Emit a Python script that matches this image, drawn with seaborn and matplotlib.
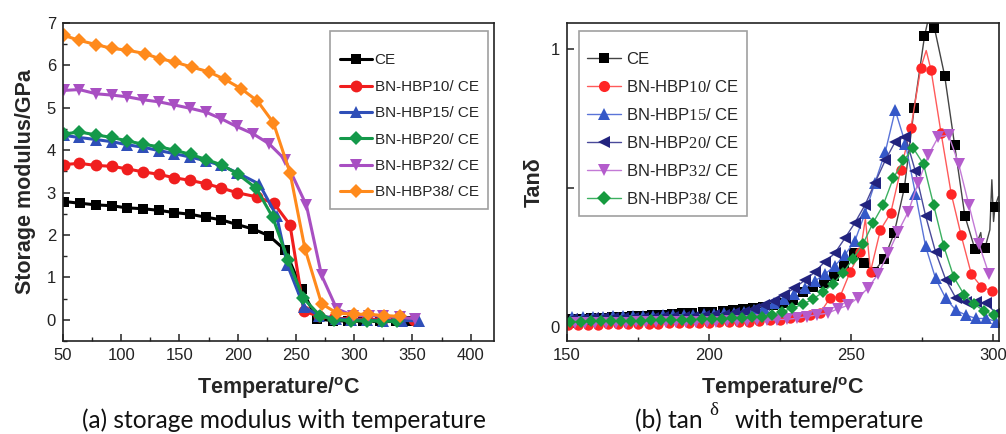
import matplotlib
matplotlib.use("Agg")
import matplotlib.pyplot as plt
import seaborn as sns
import pandas as pd
from matplotlib.lines import Line2D
from matplotlib.ticker import MultipleLocator, FixedLocator

sns.set_theme(style="white")
plt.rcParams['font.family'] = ['Liberation Sans', 'DejaVu Sans']
plt.rcParams['mathtext.fontset'] = 'custom'
plt.rcParams['mathtext.rm'] = 'Liberation Serif'
plt.rcParams['mathtext.sf'] = 'Liberation Sans:bold'

# ---------------- data: (a) storage modulus ----------------
series_a = ["CE", "BN-HBP10/ CE", "BN-HBP15/ CE", "BN-HBP20/ CE", "BN-HBP32/ CE", "BN-HBP38/ CE"]

ce_T_a = [50.6, 64.3, 78.6, 92, 104.9, 118.6, 132.6, 145.4, 159, 172.6, 185.7, 199, 213.4, 227, 240.6, 254.9, 268, 282, 295, 307.7, 322, 336, 349]
ce_E_a = [2.79, 2.75, 2.71, 2.69, 2.64, 2.62, 2.58, 2.53, 2.49, 2.42, 2.36, 2.25, 2.14, 1.98, 1.65, 0.72, 0.02, -0.02, -0.03, -0.04, -0.04, -0.04, -0.04]

h10_T_a = [50.6, 64, 78.6, 92, 105, 118.6, 132.6, 145.4, 159, 172.6, 186, 199, 216.3, 231, 244.9, 256.9, 270, 283, 297, 311, 324, 338, 351]
h10_E_a = [3.66, 3.69, 3.64, 3.62, 3.56, 3.49, 3.43, 3.35, 3.29, 3.21, 3.11, 3.0, 2.9, 2.75, 2.24, 0.2, 0.08, 0.04, 0.02, 0.01, 0.0, 0.0, 0.0]

h15_T_a = [50.6, 64, 78.6, 92, 105, 118.6, 132.6, 145.4, 159, 172.6, 186, 199.5, 218.6, 233.4, 242.6, 256.9, 270, 284, 297, 311, 325, 341, 355.7]
h15_E_a = [4.35, 4.3, 4.25, 4.2, 4.13, 4.07, 3.99, 3.92, 3.84, 3.75, 3.64, 3.47, 3.2, 2.45, 1.3, 0.3, 0.1, 0.03, 0.0, -0.01, -0.02, -0.02, -0.02]

h20_T_a = [50.6, 64, 78.6, 92, 105, 119, 132.6, 146, 159.5, 173, 186.5, 200, 216, 230, 243.4, 256.3, 270.6, 283, 297, 311, 324, 337]
h20_E_a = [4.38, 4.43, 4.36, 4.3, 4.22, 4.14, 4.08, 4.0, 3.9, 3.78, 3.65, 3.44, 3.1, 2.42, 1.4, 0.51, 0.1, 0.0, -0.02, -0.03, -0.03, -0.04]

h32_T_a = [50.6, 64, 78.6, 92, 105, 118.6, 132.6, 145, 159, 172.6, 186, 199, 213, 227, 240.6, 259, 272, 285, 299, 313, 325, 339, 352]
h32_E_a = [5.41, 5.43, 5.33, 5.3, 5.26, 5.19, 5.14, 5.07, 4.99, 4.9, 4.74, 4.56, 4.39, 4.15, 3.78, 2.7, 1.05, 0.26, 0.1, 0.1, 0.08, 0.06, 0.03]

h38_T_a = [50.6, 64, 78.6, 92, 105, 120, 133, 146, 160.6, 175, 189, 203, 217, 230.6, 245, 257.7, 272, 285, 299.7, 312, 326, 339]
h38_E_a = [6.71, 6.59, 6.49, 6.4, 6.36, 6.28, 6.16, 6.08, 5.96, 5.85, 5.67, 5.45, 5.16, 4.65, 3.46, 1.68, 0.38, 0.16, 0.13, 0.13, 0.1, 0.08]

# ---------------- data: (b) tan delta ----------------
series_b = ["CE", "BN-HBP10/ CE", "BN-HBP15/ CE", "BN-HBP20/ CE", "BN-HBP32/ CE", "BN-HBP38/ CE"]

ce_T_b = [151.5, 155.1, 158.6, 162.2, 165.7, 169.3, 172.8, 176.4, 179.9, 183.5, 187.0, 190.6, 194.1, 197.7, 201.2, 204.8, 208.3, 211.9, 215.4, 219.0,
          222.5, 226.1, 229.6, 233.2, 236.7, 240.3, 243.8, 247.4, 250.9, 254.5, 258.0, 261.6, 265.1, 268.7, 272.2, 275.8, 279.3, 282.9, 286.4, 290.0, 293.5, 297.1, 300.6]
ce_D_b = [0.028, 0.030, 0.032, 0.033, 0.035, 0.037, 0.039, 0.041, 0.043, 0.045, 0.047, 0.049, 0.051, 0.053, 0.055, 0.058, 0.061, 0.064, 0.068, 0.073,
          0.080, 0.088, 0.097, 0.125, 0.145, 0.160, 0.185, 0.225, 0.265, 0.230, 0.200, 0.246, 0.337, 0.500, 0.790, 1.046, 1.076, 0.904, 0.655, 0.400, 0.282, 0.285, 0.433]
ce_extra_T_b = [277.6, 295.6, 296.3, 298.8, 299.5, 300.1, 301.8]
ce_extra_D_b = [1.13, 0.34, 0.27, 0.35, 0.53, 0.38, 0.47]

h10_T_b = [150.3, 153.8, 157.4, 160.9, 164.5, 168.0, 171.6, 175.1, 178.7, 182.2, 185.8, 189.3, 192.9, 196.4, 200.0, 203.5, 207.1, 210.6, 214.2, 217.7, 221.3,
           224.8, 228.4, 231.9, 235.5, 239.0, 242.6, 246.1, 249.7, 253.2, 256.8, 260.3, 263.9, 267.4, 271.0, 274.5, 278.1, 281.6, 285.2, 288.7, 292.3, 295.8, 299.4]
h10_D_b = [0.008, 0.008, 0.009, 0.009, 0.010, 0.010, 0.011, 0.011, 0.012, 0.012, 0.013, 0.013, 0.014, 0.015, 0.016, 0.017, 0.018, 0.019, 0.020, 0.022, 0.024,
           0.027, 0.031, 0.037, 0.045, 0.050, 0.105, 0.110, 0.200, 0.270, 0.200, 0.350, 0.410, 0.565, 0.715, 0.933, 0.925, 0.700, 0.480, 0.330, 0.190, 0.145, 0.130]
h10_extra_T_b = [255.0, 276.4]
h10_extra_D_b = [0.39, 0.995]

h15_T_b = [151.9, 155.5, 159.0, 162.6, 166.1, 169.7, 173.2, 176.8, 180.3, 183.9, 187.4, 191.0, 194.5, 198.1, 201.6, 205.2, 208.7, 212.3, 215.8,
           219.4, 222.9, 226.5, 230.0, 233.6, 237.1, 240.7, 244.2, 247.8, 251.3, 254.9, 258.4, 262.0, 265.5, 269.1, 272.6, 276.2, 279.7, 283.3, 286.8, 290.4, 293.9, 297.5, 301.0]
h15_D_b = [0.037, 0.037, 0.038, 0.038, 0.039, 0.039, 0.040, 0.040, 0.041, 0.042, 0.043, 0.044, 0.045, 0.046, 0.047, 0.049, 0.051, 0.055, 0.060,
           0.070, 0.085, 0.100, 0.120, 0.140, 0.165, 0.190, 0.220, 0.260, 0.310, 0.410, 0.520, 0.630, 0.780, 0.660, 0.480, 0.290, 0.175, 0.103, 0.061, 0.043, 0.031, 0.031, 0.020]

h20_T_b = [151.9, 155.5, 159.0, 162.6, 166.1, 169.7, 173.2, 176.8, 180.3, 183.9, 187.4, 191.0, 194.5, 198.1, 201.6, 205.2, 208.7, 212.3, 215.8,
           219.4, 222.9, 226.5, 230.0, 233.6, 237.1, 240.7, 244.2, 247.8, 251.3, 254.9, 258.4, 262.0, 265.5, 269.1, 272.6, 276.2, 279.7, 283.3, 286.8, 290.4, 293.9, 297.5, 301.0]
h20_D_b = [0.030, 0.030, 0.031, 0.031, 0.032, 0.032, 0.033, 0.033, 0.034, 0.035, 0.036, 0.037, 0.038, 0.040, 0.042, 0.045, 0.049, 0.055, 0.065,
           0.078, 0.095, 0.117, 0.140, 0.168, 0.197, 0.235, 0.265, 0.320, 0.375, 0.440, 0.520, 0.600, 0.667, 0.685, 0.560, 0.400, 0.270, 0.170, 0.105, 0.090, 0.090, 0.085, 0.050]

h32_T_b = [152.9, 156.5, 160.0, 163.6, 167.1, 170.7, 174.2, 177.8, 181.3, 184.9, 188.4, 192.0, 195.5, 199.1, 202.6, 206.2, 209.7, 213.3, 216.8, 220.4, 223.9, 227.5,
           231.0, 234.6, 238.1, 241.7, 245.2, 248.8, 252.3, 255.9, 259.4, 263.0, 266.5, 270.1, 273.6, 277.2, 280.7, 284.3, 287.8, 291.4, 294.9, 298.5]
h32_D_b = [0.015, 0.015, 0.015, 0.016, 0.016, 0.016, 0.017, 0.017, 0.017, 0.018, 0.018, 0.019, 0.019, 0.020, 0.020, 0.021, 0.022, 0.023, 0.024, 0.025, 0.027, 0.028,
           0.032, 0.038, 0.045, 0.050, 0.065, 0.078, 0.105, 0.140, 0.190, 0.265, 0.343, 0.415, 0.520, 0.619, 0.685, 0.690, 0.588, 0.440, 0.300, 0.190]

h38_T_b = [151.2, 154.8, 158.3, 161.9, 165.4, 169.0, 172.5, 176.1, 179.6, 183.2, 186.7, 190.3, 193.8, 197.4, 200.9, 204.5, 208.0, 211.6, 215.1,
           218.7, 222.2, 225.8, 229.3, 232.9, 236.4, 240.0, 243.5, 247.1, 250.6, 254.2, 257.7, 261.3, 264.8, 268.4, 271.9, 275.5, 279.0, 282.6, 286.1, 289.7, 293.2, 296.8, 300.3]
h38_D_b = [0.020, 0.020, 0.021, 0.021, 0.022, 0.022, 0.023, 0.023, 0.024, 0.025, 0.025, 0.026, 0.027, 0.028, 0.029, 0.030, 0.031, 0.033, 0.035,
           0.038, 0.045, 0.056, 0.068, 0.082, 0.100, 0.125, 0.155, 0.195, 0.245, 0.300, 0.375, 0.440, 0.535, 0.600, 0.643, 0.585, 0.440, 0.290, 0.180, 0.117, 0.083, 0.058, 0.043]

# ---------------- styles ----------------
colors_a = ["#000000", "#f01e1e", "#2f4fb8", "#14994a", "#a84fc2", "#ff8a1c"]
markers_a = ["s", "o", "^", "D", "v", "D"]
msize_a = [7.5, 8.5, 8.5, 7, 8.5, 7]

colors_b = ["#000000", "#ff2626", "#3558c8", "#22237e", "#b45ccc", "#169a3e"]
markers_b = ["s", "o", "^", "<", "v", "D"]
msize_b = [6.5, 7.5, 8.5, 8.5, 8.5, 6.5]
lcolors_b = ["#444444", "#ff5a5a", "#5a74d8", "#4a4a9a", "#c37ad6", "#3cb060"]

fig = plt.figure(figsize=(10.06, 4.34), dpi=100)
fig.patch.set_facecolor("white")
ax1 = fig.add_axes([0.0626, 0.2143, 0.4284, 0.7327])
ax2 = fig.add_axes([0.5636, 0.2143, 0.4294, 0.7327])

# ---- panel (a)
data_a = [(ce_T_a, ce_E_a), (h10_T_a, h10_E_a), (h15_T_a, h15_E_a),
          (h20_T_a, h20_E_a), (h32_T_a, h32_E_a), (h38_T_a, h38_E_a)]
for i, (name, (t, e)) in enumerate(zip(series_a, data_a)):
    df = pd.DataFrame({"T": t, "E": e})
    sns.lineplot(data=df, x="T", y="E", ax=ax1, color=colors_a[i], linewidth=2.2,
                 marker=markers_a[i], markersize=msize_a[i], markeredgewidth=0,
                 estimator=None, sort=False, legend=False)

ax1.set_xlim(50, 420)
ax1.set_ylim(-0.5, 7)
ax1.xaxis.set_major_locator(FixedLocator([50, 100, 150, 200, 250, 300, 350, 400]))
ax1.xaxis.set_minor_locator(MultipleLocator(25))
ax1.yaxis.set_major_locator(FixedLocator([0, 1, 2, 3, 4, 5, 6, 7]))
ax1.yaxis.set_minor_locator(MultipleLocator(0.5))
ax1.set_xlabel("Temperature/$^{\\mathsf{o}}$C", fontsize=15.5, fontweight="bold", labelpad=9)
ax1.set_ylabel("Storage modulus/GPa", fontsize=15.5, fontweight="bold", labelpad=8)

handles_a = [Line2D([0], [0], color=colors_a[i], lw=2.2, marker=markers_a[i],
                    markersize=msize_a[i], markeredgewidth=0) for i in range(6)]
leg1 = ax1.legend(handles_a, series_a, loc="upper right", bbox_to_anchor=(0.986, 0.975),
                  borderaxespad=0, fontsize=11, frameon=True, fancybox=False,
                  handlelength=2.1, handletextpad=0.2, labelspacing=0.81,
                  borderpad=0.6, title=" ", title_fontsize=1)
leg1.get_frame().set_edgecolor("#888888")
leg1.get_frame().set_linewidth(1.2)

# ---- panel (b)
data_b = [(ce_T_b, ce_D_b, ce_extra_T_b, ce_extra_D_b),
          (h10_T_b, h10_D_b, h10_extra_T_b, h10_extra_D_b),
          (h15_T_b, h15_D_b, [], []),
          (h20_T_b, h20_D_b, [], []),
          (h32_T_b, h32_D_b, [], []),
          (h38_T_b, h38_D_b, [], [])]
for i, (name, (t, d, et, ed)) in enumerate(zip(series_b, data_b)):
    dline = pd.DataFrame({"T": list(t) + list(et), "D": list(d) + list(ed)}).sort_values("T")
    sns.lineplot(data=dline, x="T", y="D", ax=ax2, color=lcolors_b[i], linewidth=1.0,
                 estimator=None, sort=True, legend=False)
    dmark = pd.DataFrame({"T": t, "D": d})
    sns.lineplot(data=dmark, x="T", y="D", ax=ax2, color=colors_b[i], linestyle="",
                 marker=markers_b[i], markersize=msize_b[i], markeredgewidth=0,
                 estimator=None, sort=False, legend=False)

ax2.set_xlim(150, 302)
ax2.set_ylim(-0.05, 1.094)
ax2.xaxis.set_major_locator(FixedLocator([150, 200, 250, 300]))
ax2.xaxis.set_minor_locator(FixedLocator([175, 225, 275]))
ax2.yaxis.set_major_locator(FixedLocator([0, 0.5, 1]))
ax2.set_yticklabels(["0", "", "1"])
ax2.set_xlabel("Temperature/$^{\\mathsf{o}}$C", fontsize=15.5, fontweight="bold", labelpad=9)
ax2.set_ylabel("Tanδ", fontsize=15.5, fontweight="bold", labelpad=4)

labels_b = ["CE", "BN-HBP$\\mathrm{10}$/ CE", "BN-HBP$\\mathrm{15}$/ CE", "BN-HBP$\\mathrm{20}$/ CE",
            "BN-HBP$\\mathrm{32}$/ CE", "BN-HBP$\\mathrm{38}$/ CE"]
handles_b = [Line2D([0], [0], color=lcolors_b[i], lw=1.0, marker=markers_b[i],
                    markersize=msize_b[i] + 0.5, markerfacecolor=colors_b[i],
                    markeredgewidth=0) for i in range(6)]
leg2 = ax2.legend(handles_b, labels_b, loc="upper left", bbox_to_anchor=(0.028, 0.975),
                  borderaxespad=0, fontsize=12, frameon=True, fancybox=False,
                  handlelength=2.0, handletextpad=0.3, labelspacing=0.72,
                  borderpad=0.5, title=" ", title_fontsize=1)
leg2.get_frame().set_edgecolor("#888888")
leg2.get_frame().set_linewidth(1.2)

for ax in (ax1, ax2):
    for sp in ax.spines.values():
        sp.set_color("#222222")
        sp.set_linewidth(1.2)
        sp.set_visible(True)
    ax.tick_params(axis="both", which="major", direction="in", length=5, width=1.1,
                   labelsize=12, colors="#222222", top=False, right=False, pad=5)
    ax.tick_params(axis="both", which="minor", direction="in", length=3, width=1.0,
                   top=False, right=False)
    ax.tick_params(axis="both", which="both", bottom=True, left=True)
    ax.set_facecolor("white")
    ax.grid(False)

# captions (font size fitted to the reference caption width)
renderer = fig.canvas.get_renderer()
W = fig.bbox.width
cap_family = ["Lato", "DejaVu Sans"]
cap_a = fig.text(82 / W, 0.0138, "(a) storage modulus with temperature", ha="left",
                 va="baseline", fontsize=18, family=cap_family, color="#111111")
wa = cap_a.get_window_extent(renderer).width
cap_fs = 18 * 403 / wa
cap_a.set_fontsize(cap_fs)

fig.text(635 / W, 0.0138, "(b) tan", ha="left", va="baseline", fontsize=cap_fs,
         family=cap_family, color="#111111")
fig.text(709 / W, 0.043, "δ", ha="left", va="baseline", fontsize=13.5,
         family=["Liberation Serif", "DejaVu Serif"], color="#111111")
fig.text(923 / W, 0.0138, "with temperature", ha="right", va="baseline", fontsize=cap_fs,
         family=cap_family, color="#111111")

fig.savefig("out.png", dpi=100, facecolor="white")
